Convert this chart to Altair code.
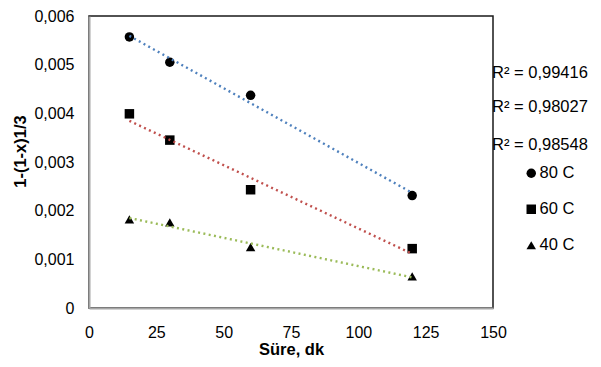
import altair as alt
import pandas as pd

times = [15, 30, 60, 120]
series_names = ["80 C", "60 C", "40 C"]
y80 = [0.00557, 0.00505, 0.00437, 0.00231]
y60 = [0.00399, 0.00345, 0.00243, 0.00122]
y40 = [0.00182, 0.00176, 0.00125, 0.00065]
r2_labels = ["R² = 0,99416", "R² = 0,98027", "R² = 0,98548"]
x_ticks = [0, 25, 50, 75, 100, 125, 150]
y_ticks = [0, 0.001, 0.002, 0.003, 0.004, 0.005, 0.006]

rows = []
for name, vals in zip(series_names, [y80, y60, y40]):
    for t, v in zip(times, vals):
        rows.append({"t": t, "v": v, "series": name})
df = pd.DataFrame(rows)

FONT = "Liberation Sans"
W, H = 404, 292

xenc = alt.X("t:Q", scale=alt.Scale(domain=[0, 150], nice=False),
             axis=alt.Axis(values=x_ticks, title="Süre, dk", labelFlush=False,
                           labelPadding=16, titlePadding=1))
yenc = alt.Y("v:Q", scale=alt.Scale(domain=[0, 0.006], nice=False),
             axis=alt.Axis(values=y_ticks, title="1-(1-x)1/3", labelFlush=False,
                           labelPadding=15, titlePadding=5, titleY=135,
                           labelExpr="datum.value == 0 ? '0' : replace(format(datum.value, '.3f'), '.', ',')"))

points = alt.Chart(df).mark_point(filled=True, opacity=1, size=90, color="black").encode(
    x=xenc, y=yenc,
    shape=alt.Shape("series:N",
                    scale=alt.Scale(domain=series_names, range=["circle", "square", "triangle-up"]),
                    legend=alt.Legend(title=None, orient="none", legendX=434, legendY=149,
                                      labelFont=FONT, labelFontSize=16.5, labelColor="black",
                                      symbolFillColor="black", symbolStrokeColor="black",
                                      symbolStrokeWidth=0,
                                      symbolSize=90, rowPadding=19, labelOffset=0, padding=0)),
)

lines = alt.Chart(df).transform_calculate(grp="datum.series").transform_regression(
    "t", "v", groupby=["grp"]
).mark_line(strokeDash=[2, 3.4], strokeWidth=2.4).encode(
    x="t:Q", y="v:Q",
    color=alt.Color("grp:N", scale=alt.Scale(domain=series_names,
                                              range=["#4F81BD", "#C0504D", "#9BBB59"]), legend=None),
)

r2_y = [56.7, 91, 129]
texts = []
for lab, yy in zip(r2_labels, r2_y):
    texts.append(alt.Chart(pd.DataFrame({"label": [lab]})).mark_text(
        align="left", baseline="middle", font=FONT, fontSize=16.5, color="black"
    ).encode(x=alt.value(403), y=alt.value(yy), text="label:N"))

chart = alt.layer(points, lines, *texts).properties(
    width=W, height=H,
    autosize=alt.AutoSizeParams(type="none"),
    padding={"left": 81, "top": 8, "right": 100, "bottom": 51},
).configure_view(stroke="#1a1a1a", strokeWidth=1.5).configure_axis(
    grid=False, ticks=False, domainColor="#A6A6A6", domainWidth=2,
    labelFont=FONT, labelFontSize=16, labelColor="black",
    titleFont=FONT, titleFontSize=16.5, titleFontWeight="bold", titleColor="black",
)

chart.save("out.html", embed_options={"renderer": "svg", "actions": False})
